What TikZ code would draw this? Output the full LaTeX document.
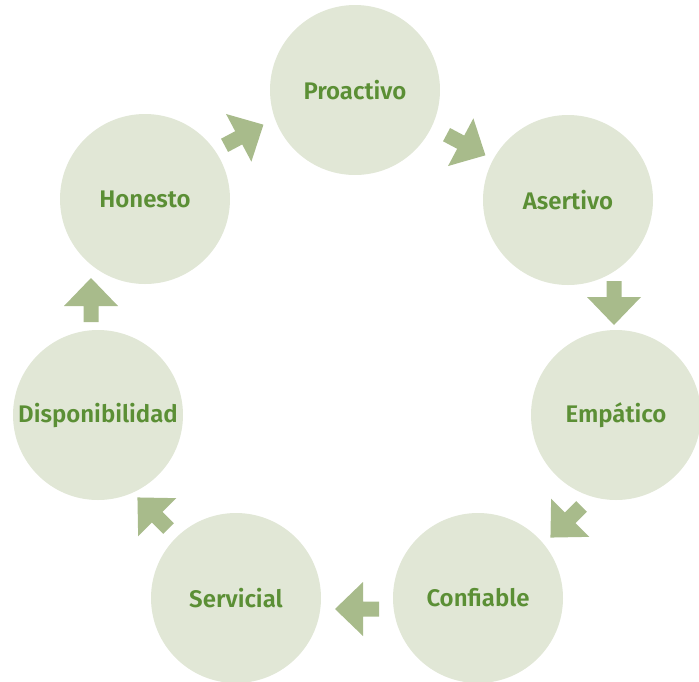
\documentclass[tikz,border=0pt]{standalone}
\usepackage{fontspec}
\setmainfont{Fira Sans}[BoldFont={Fira Sans SemiBold}]
\usetikzlibrary{positioning}

\definecolor{circfill}{HTML}{E1E7D6}
\definecolor{arrowfill}{HTML}{A8BB8B}
\definecolor{labelgreen}{HTML}{5B8F35}

\tikzset{
  valor/.style={circle, fill=circfill, minimum size=170pt, inner sep=0pt,
    text=labelgreen, font=\fontsize{24}{28}\selectfont\bfseries},
  flecha/.pic={
    \fill[arrowfill] (-22,-7.5) -- (-6,-7.5) -- (-6,-27) -- (22,0)
      -- (-6,27) -- (-6,7.5) -- (-22,7.5) -- cycle;
  }
}

\begin{document}
\begin{tikzpicture}[x=1pt,y=-1pt]
  \useasboundingbox (0,0) rectangle (699,681);

  % valores
  \node[valor] (proactivo) at (355,90) {Proactivo};
  \node[valor] (asertivo) at (568,200) {Asertivo};
  \node[valor] (empatico) at (616,415) {Empático};
  \node[valor] (confiable) at (478,598) {Confiable};
  \node[valor] (servicial) at (236,598) {Servicial};
  \node[valor] (disponibilidad) at (98,415) {Disponibilidad};
  \node[valor] (honesto) at (145,199) {Honesto};

  % flechas del ciclo
  \pic[rotate=28] at (244,135) {flecha};
  \pic[rotate=-28] at (466,145) {flecha};
  \pic[rotate=-90] at (614,303) {flecha};
  \pic[rotate=-135] at (566,522) {flecha};
  \pic[rotate=180] at (357,609) {flecha};
  \pic[rotate=135] at (153,513) {flecha};
  \pic[rotate=90] at (91,300) {flecha};
\end{tikzpicture}
\end{document}
